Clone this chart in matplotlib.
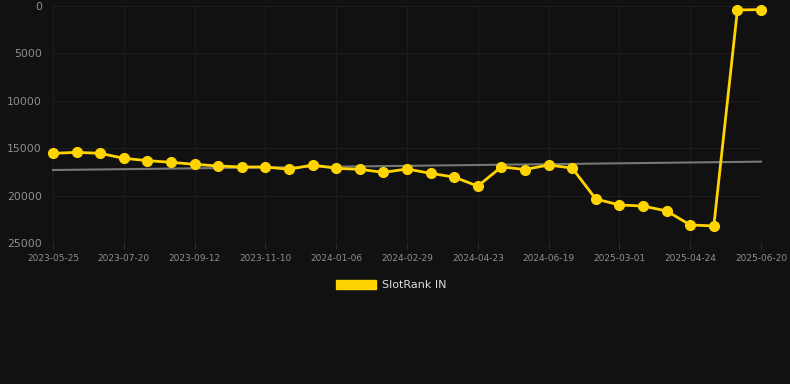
"""
plot.py
SlotRank IN rank history, dark theme line chart.
"""

import matplotlib

matplotlib.use("Agg")
import matplotlib.pyplot as plt
from matplotlib.patches import Patch

# Data
dates = [
    "2023-05-25", "2023-06-13", "2023-07-01", "2023-07-20", "2023-08-07",
    "2023-08-25", "2023-09-12", "2023-10-01", "2023-10-21", "2023-11-10",
    "2023-11-29", "2023-12-18", "2024-01-06", "2024-01-24", "2024-02-11",
    "2024-02-29", "2024-03-18", "2024-04-05", "2024-04-23", "2024-05-12",
    "2024-05-31", "2024-06-19", "2024-07-08", "2025-01-20", "2025-03-01",
    "2025-03-19", "2025-04-06", "2025-04-24", "2025-05-12", "2025-05-31",
    "2025-06-20",
]
ranks = [
    15540, 15440, 15540, 16070, 16310, 16490, 16700, 16880, 16980, 16980,
    17230, 16770, 17120, 17230, 17550, 17200, 17650, 18050, 19000, 16970,
    17250, 16770, 17100, 20360, 20990, 21100, 21620, 23100, 23200, 420,
    380,
]
trend = [17300, 16420]  # trend line, first and last point
series_name = "SlotRank IN"

BG = "#111111"
GOLD = "#FFD400"

fig = plt.figure(figsize=(7.9, 3.84), dpi=100, facecolor=BG)
ax = fig.add_axes([0.0671, 0.3672, 0.8962, 0.6172], facecolor=BG)

x = list(range(len(ranks)))
ax.plot(
    [x[0], x[-1]], trend, color="#777777", linewidth=1.5, zorder=2, clip_on=False
)
ax.plot(
    x,
    ranks,
    color=GOLD,
    linewidth=2.0,
    marker="o",
    markersize=7,
    zorder=3,
    clip_on=False,
)

ax.set_xlim(0, len(ranks) - 1)
ax.set_ylim(25000, 0)
ax.set_yticks([0, 5000, 10000, 15000, 20000, 25000])
ax.set_xticks(x[::3])
ax.set_xticklabels(dates[::3])

ax.grid(True, color="#1d1d1d", linewidth=0.8)
ax.set_axisbelow(True)
for side in ("top", "right", "left", "bottom"):
    ax.spines[side].set_visible(False)

ax.tick_params(axis="y", colors="#8f8f8f", labelsize=7.8, length=0, pad=8)
ax.tick_params(axis="x", colors="#8f8f8f", labelsize=6.5, length=4,
               color="#2a2a2a", pad=4)

handle = Patch(facecolor=GOLD, edgecolor=GOLD)
leg = fig.legend(
    handles=[handle],
    labels=[series_name],
    loc="center",
    bbox_to_anchor=(0.495, 0.258),
    frameon=False,
    fontsize=8,
    handlelength=3.6,
    handleheight=1.0,
    handletextpad=0.55,
)
for t in leg.get_texts():
    t.set_color("#dddddd")

fig.savefig("out.png", dpi=100, facecolor=BG)
plt.close(fig)
